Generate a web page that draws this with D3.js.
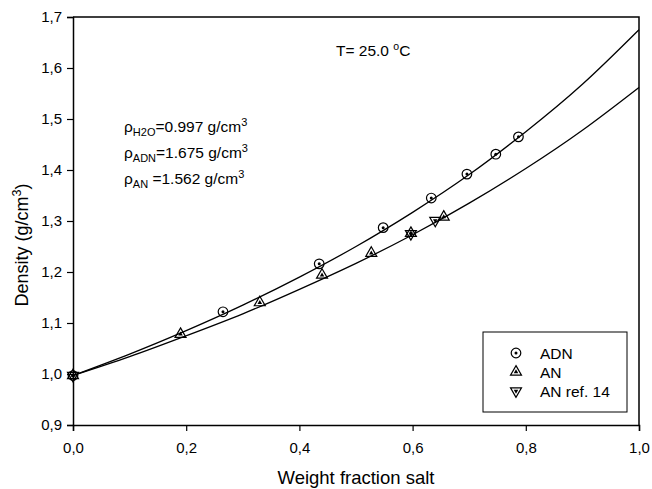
<!DOCTYPE html>
<html><head><meta charset="utf-8">
<script src="https://cdn.jsdelivr.net/npm/d3@7"></script>
<style>
body{margin:0;background:#fff}
svg{display:block}
text{font-family:Arial,"Liberation Sans",sans-serif;fill:#000}
</style>
</head><body>
<svg id="c" width="652" height="489"></svg>
<script>
// Measured points
const adnX = [0, 0.265, 0.435, 0.548, 0.633, 0.696, 0.747, 0.787];
const adnY = [0.997, 1.122, 1.216, 1.287, 1.345, 1.392, 1.431, 1.465];
const anX = [0, 0.19, 0.33, 0.44, 0.527, 0.597, 0.655];
const anY = [0.997, 1.078, 1.140, 1.194, 1.237, 1.276, 1.308];
const anRefX = [0, 0.597, 0.640];
const anRefY = [0.997, 1.275, 1.301];
// Model curves
const curveX = [0, 0.1, 0.2, 0.3, 0.4, 0.5, 0.6, 0.7, 0.8, 0.9, 1.0];
const adnCurveY = [0.997, 1.039, 1.085, 1.135, 1.190, 1.250, 1.317, 1.391, 1.475, 1.568, 1.675];
const anCurveY = [0.997, 1.034, 1.075, 1.118, 1.166, 1.217, 1.273, 1.335, 1.403, 1.478, 1.562];
const xTicks = [0, 0.2, 0.4, 0.6, 0.8, 1.0];
const yTicks = [0.9, 1.0, 1.1, 1.2, 1.3, 1.4, 1.5, 1.6, 1.7];
const legendLabels = ["ADN", "AN", "AN ref. 14"];

const svg = d3.select("#c");
const L = 73, R = 639, T = 17, B = 425;
const x = d3.scaleLinear().domain([0, 1]).range([L, R]);
const y = d3.scaleLinear().domain([0.9, 1.7]).range([B, T]);
const fmt = v => d3.format(".1f")(v).replace(".", ",");

// axes
const gx = svg.append("g").attr("transform", `translate(0,${B})`)
  .call(d3.axisBottom(x).tickValues(xTicks).tickFormat(fmt).tickSizeOuter(0).tickSize(6).tickPadding(11));
const gy = svg.append("g").attr("transform", `translate(${L},0)`)
  .call(d3.axisLeft(y).tickValues(yTicks).tickFormat(fmt).tickSizeOuter(0).tickSize(6).tickPadding(5));
[gx, gy].forEach(g => {
  g.select(".domain").attr("stroke", "#000").attr("stroke-width", 1.5);
  g.selectAll(".tick line").attr("stroke", "#000").attr("stroke-width", 1.2);
  g.selectAll(".tick text").style("font-size", "15px").attr("fill", "#000");
});
// frame top/right
svg.append("path").attr("d", `M${L},${T}H${R}V${B}`).attr("fill", "none").attr("stroke", "#000").attr("stroke-width", 1.5);

// curves
const line = d3.line().x(d => x(d[0])).y(d => y(d[1])).curve(d3.curveNatural);
[adnCurveY, anCurveY].forEach(cy => {
  svg.append("path").datum(curveX.map((v, i) => [v, cy[i]]))
    .attr("d", line).attr("fill", "none").attr("stroke", "#000").attr("stroke-width", 1.3);
});

// symbols
function drawCircle(g, cx, cy) {
  g.append("circle").attr("cx", cx).attr("cy", cy).attr("r", 4.8).attr("fill", "none").attr("stroke", "#000").attr("stroke-width", 1.2);
  g.append("circle").attr("cx", cx).attr("cy", cy).attr("r", 1.5).attr("fill", "#000");
}
const triBig = d3.symbol().type(d3.symbolTriangle).size(52)();
const triSmall = d3.symbol().type(d3.symbolTriangle).size(9)();
function drawTri(g, cx, cy, down) {
  const rot = down ? 180 : 0;
  g.append("path").attr("d", triBig).attr("transform", `translate(${cx},${cy}) rotate(${rot})`)
    .attr("fill", "none").attr("stroke", "#000").attr("stroke-width", 1.2);
  g.append("path").attr("d", triSmall).attr("transform", `translate(${cx},${cy}) rotate(${rot})`)
    .attr("fill", "#000");
}
const gp = svg.append("g");
adnX.forEach((v, i) => drawCircle(gp, x(v), y(adnY[i])));
anX.forEach((v, i) => drawTri(gp, x(v), y(anY[i]), false));
anRefX.forEach((v, i) => drawTri(gp, x(v), y(anRefY[i]), true));

// axis titles
svg.append("text").attr("x", (L + R) / 2).attr("y", 484).attr("text-anchor", "middle")
  .style("font-size", "18.5px").text("Weight fraction salt");
const yt = svg.append("text").attr("transform", `translate(28,245) rotate(-90)`)
  .attr("text-anchor", "middle").style("font-size", "18px");
yt.append("tspan").text("Density (g/cm");
yt.append("tspan").attr("dy", -7).style("font-size", "12.5px").text("3");
yt.append("tspan").attr("dy", 7).text(")");

// annotations
svg.append("text").attr("x", 336).attr("y", 56).style("font-size", "15.5px")
  .call(t => {
    t.append("tspan").text("T= 25.0 ");
    t.append("tspan").attr("dy", -6).style("font-size", "10.5px").text("o");
    t.append("tspan").attr("dy", 6).text("C");
  });
const rhoLines = [["H2O", "=0.997 g/cm"], ["ADN", "=1.675 g/cm"], ["AN", " =1.562 g/cm"]];
const rhoY = [132, 158, 184];
rhoLines.forEach((r, i) => {
  const t = svg.append("text").attr("x", 124).attr("y", rhoY[i]).style("font-size", "15.5px");
  t.append("tspan").text("ρ");
  t.append("tspan").attr("dy", 4).style("font-size", "11px").text(r[0]);
  t.append("tspan").attr("dy", -4).text(r[1]);
  t.append("tspan").attr("dy", -6.5).style("font-size", "11px").text("3");
});

// legend
svg.append("rect").attr("x", 483).attr("y", 332).attr("width", 144).attr("height", 80)
  .attr("fill", "#fff").attr("stroke", "#000").attr("stroke-width", 1);
const legY = [353, 372, 391];
drawCircle(svg, 516, legY[0]);
drawTri(svg, 516, legY[1], false);
drawTri(svg, 516, legY[2], true);
legendLabels.forEach((lab, i) => {
  svg.append("text").attr("x", 540).attr("y", legY[i] + 5.5).style("font-size", "15.5px").text(lab);
});
</script>
</body></html>
